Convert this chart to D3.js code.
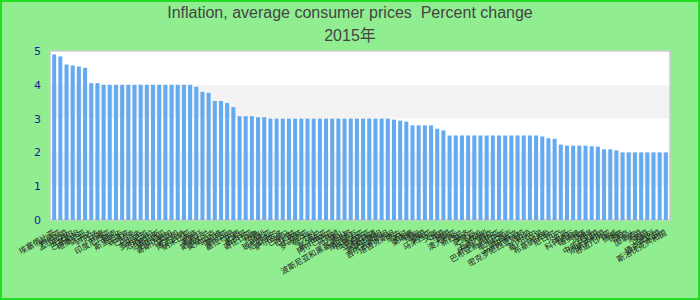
<!DOCTYPE html>
<html>
<head>
<meta charset="utf-8">
<script src="https://cdn.jsdelivr.net/npm/d3@7"></script>
<style>
  body { margin: 0; background: #90ee90; }
  svg { display: block; }
</style>
</head>
<body>
<script>
// chart data
var titleLines = ["Inflation, average consumer prices  Percent change", "2015年"];

var countries = [
  "埃塞俄比亚", "肯尼亚", "孟加拉国", "尼泊尔", "巴基斯坦", "坦桑尼亚", "乌干达", "卢旺达",
  "印度", "印度尼西亚", "越南", "斯里兰卡", "菲律宾", "巴拉圭", "乌拉圭", "多米尼加",
  "危地马拉", "洪都拉斯", "尼加拉瓜", "哥斯达黎加", "牙买加", "博茨瓦纳", "纳米比亚", "南非",
  "莱索托", "斯威士兰", "莫桑比克", "马拉维", "赞比亚", "塞拉利昂", "巴西", "墨西哥",
  "哥伦比亚", "秘鲁", "智利", "玻利维亚", "厄瓜多尔", "萨尔瓦多", "巴拿马", "伯利兹",
  "土耳其", "罗马尼亚", "匈牙利", "波兰", "塞尔维亚", "阿尔巴尼亚", "马其顿", "黑山",
  "波斯尼亚和黑塞哥维那", "摩尔多瓦", "格鲁吉亚", "亚美尼亚", "阿塞拜疆", "哈萨克斯坦", "吉尔吉斯斯坦", "塔吉克斯坦",
  "蒙古", "老挝", "柬埔寨", "缅甸", "泰国", "马来西亚", "文莱", "中国",
  "韩国", "澳大利亚", "新西兰", "斐济", "萨摩亚", "汤加", "瓦努阿图", "所罗门群岛",
  "巴布亚新几内亚", "基里巴斯", "图瓦卢", "马绍尔群岛", "密克罗尼西亚联邦", "帕劳", "塞内加尔", "马里",
  "布基纳法索", "尼日尔", "贝宁", "多哥", "科特迪瓦", "喀麦隆", "加蓬", "乍得",
  "中非共和国", "刚果共和国", "赤道几内亚", "挪威", "瑞典", "冰岛", "加拿大", "美国",
  "英国", "以色列", "捷克共和国", "斯洛伐克共和国"
];

var values = [
  4.9, 4.84, 4.6, 4.57, 4.54, 4.5, 4.05, 4.05,
  4.0, 4.0, 4.0, 4.0, 4.0, 4.0, 4.0, 4.0,
  4.0, 4.0, 4.0, 4.0, 4.0, 4.0, 4.0, 3.94,
  3.79, 3.76, 3.52, 3.52, 3.46, 3.34, 3.07, 3.07,
  3.07, 3.04, 3.04, 3.0, 3.0, 3.0, 3.0, 3.0,
  3.0, 3.0, 3.0, 3.0, 3.0, 3.0, 3.0, 3.0,
  3.0, 3.0, 3.0, 3.0, 3.0, 3.0, 3.0, 2.97,
  2.94, 2.91, 2.8, 2.8, 2.8, 2.8, 2.7, 2.65,
  2.5, 2.5, 2.5, 2.5, 2.5, 2.5, 2.5, 2.5,
  2.5, 2.5, 2.5, 2.5, 2.5, 2.5, 2.5, 2.47,
  2.42, 2.4, 2.23, 2.2, 2.2, 2.2, 2.2, 2.18,
  2.17, 2.09, 2.09, 2.06, 2.0, 2.0, 2.0, 2.0,
  2.0, 2.0, 2.0, 2.0
];

var yTicks = [0, 1, 2, 3, 4, 5];

var width = 700, height = 300;
var margin = {top: 51, right: 30, bottom: 80, left: 50};

var svg = d3.select("body").append("svg")
  .attr("width", width)
  .attr("height", height);

// page background and outer border
svg.append("rect")
  .attr("x", 1).attr("y", 1)
  .attr("width", width - 2).attr("height", height - 2)
  .attr("fill", "#90ee90")
  .attr("stroke", "#22dd22")
  .attr("stroke-width", 2);

// title (keep the double space)
svg.selectAll("text.title")
  .data(titleLines)
  .enter().append("text")
  .attr("class", "title")
  .attr("x", width / 2)
  .attr("y", function(d, i) { return 18 + i * 23; })
  .attr("text-anchor", "middle")
  .attr("font-family", "'Liberation Sans', Arial, 'Noto Sans CJK SC', sans-serif")
  .attr("font-size", 16)
  .attr("fill", "#444")
  .style("white-space", "pre")
  .text(function(d) { return d; });

var x = d3.scaleBand()
  .domain(countries)
  .range([margin.left, width - margin.right])
  .paddingInner(0.35)
  .paddingOuter(0.35);

var y = d3.scaleLinear()
  .domain([0, 5])
  .range([height - margin.bottom, margin.top]);

// plot area
var plot = svg.append("g");

plot.append("rect")
  .attr("x", margin.left)
  .attr("y", margin.top)
  .attr("width", width - margin.left - margin.right)
  .attr("height", y(0) - y(5))
  .attr("fill", "#fff");

// alternating bands
plot.selectAll("rect.band")
  .data(yTicks.slice(0, -1).filter(function(d) { return d % 2 == 1; }))
  .enter().append("rect")
  .attr("class", "band")
  .attr("x", margin.left)
  .attr("y", function(d) { return y(d + 1); })
  .attr("width", width - margin.left - margin.right)
  .attr("height", function(d) { return y(d) - y(d + 1); })
  .attr("fill", "#f3f3f3");

plot.append("rect")
  .attr("x", margin.left)
  .attr("y", margin.top)
  .attr("width", width - margin.left - margin.right)
  .attr("height", y(0) - y(5))
  .attr("fill", "none")
  .attr("stroke", "#cccccc")
  .attr("stroke-width", 1.5);

// bars
plot.selectAll("rect.bar")
  .data(values)
  .enter().append("rect")
  .attr("class", "bar")
  .attr("x", function(d, i) { return x(countries[i]); })
  .attr("y", function(d) { return y(d); })
  .attr("width", x.bandwidth())
  .attr("height", function(d) { return y(0) - y(d); })
  .attr("fill", "#64aaf0");

// y axis
var yAxis = svg.append("g")
  .attr("transform", "translate(" + (margin.left - 9) + ",0)")
  .call(d3.axisLeft(y).tickValues(yTicks).tickFormat(d3.format("d")).tickSize(0).tickPadding(0));

yAxis.select(".domain").remove();
yAxis.selectAll("text")
  .attr("font-family", "'DejaVu Sans', sans-serif")
  .attr("font-size", 11)
  .attr("fill", "#1a1a99");

// x axis labels
var xAxis = svg.append("g")
  .attr("transform", "translate(0," + (y(0) + 12) + ")")
  .call(d3.axisBottom(x).tickSize(0).tickPadding(0));

xAxis.select(".domain").remove();
xAxis.selectAll("text")
  .attr("font-family", "'Noto Sans CJK SC', sans-serif")
  .attr("font-size", 8)
  .attr("fill", "#222")
  .attr("text-anchor", "end")
  .attr("dy", "0.35em")
  .attr("transform", "rotate(-30)");
</script>
</body>
</html>
